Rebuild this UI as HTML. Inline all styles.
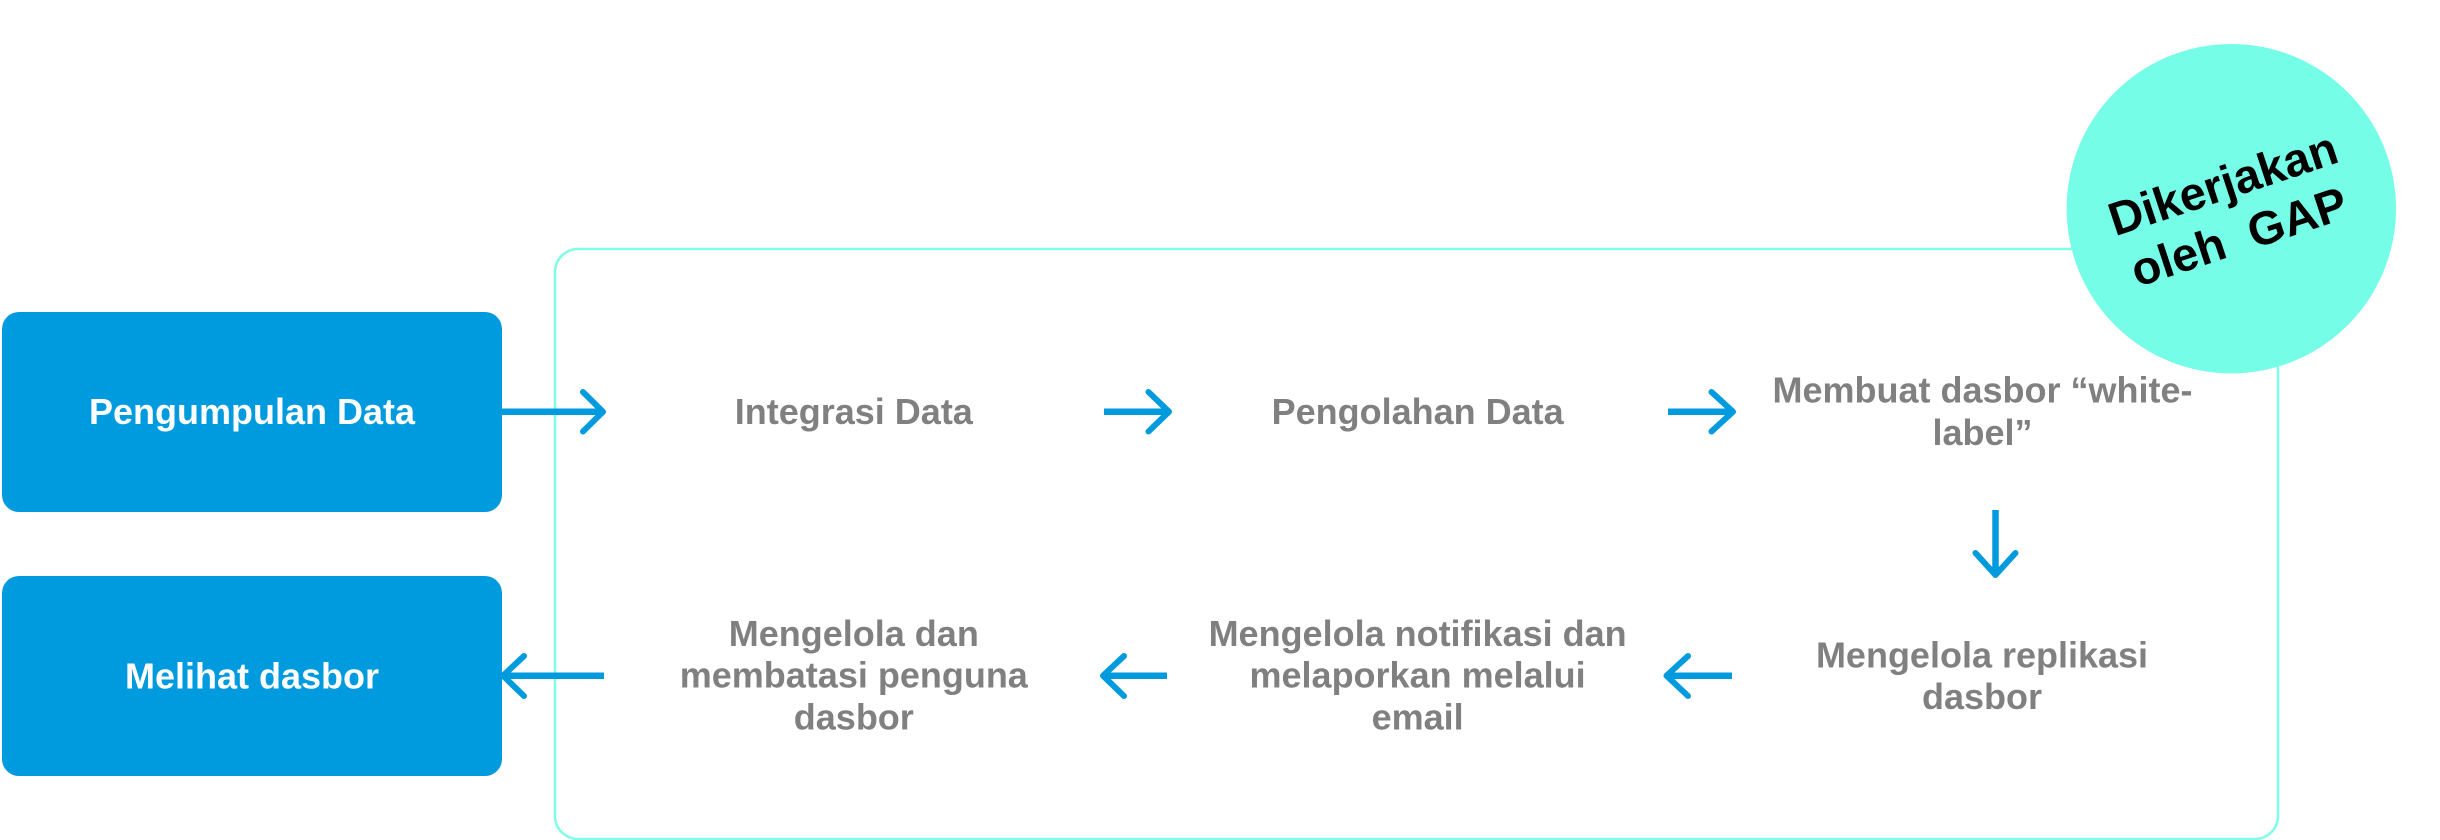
<!DOCTYPE html>
<html><head><meta charset="utf-8"><style>
html,body{margin:0;padding:0;background:#fff;width:2440px;height:840px;overflow:hidden}
svg{display:block}
text{font-family:"Liberation Sans",Arial,sans-serif;font-weight:700;font-size:36px;text-anchor:middle}
.g{fill:#808080}.w{fill:#fff}
.a{fill:none;stroke:#009ade;stroke-width:6;stroke-linecap:round;stroke-linejoin:round}
.l{fill:none;stroke:#009ade;stroke-width:6.5}
</style></head><body>
<svg width="2440" height="840" viewBox="0 0 2440 840" xmlns="http://www.w3.org/2000/svg">
<rect x="555" y="249" width="1723" height="590" rx="23" fill="#fff" stroke="#7ffde9" stroke-width="2.5"/>
<rect x="2" y="312" width="500" height="200" rx="17" fill="#009ade"/>
<rect x="2" y="576" width="500" height="200" rx="17" fill="#009ade"/>
<circle cx="2231.3" cy="208.7" r="164.7" fill="#76fde8"/>

<line class="l" x1="501" y1="411.7" x2="601" y2="411.7"/><polyline class="a" points="583,392 603,411.7 583,431.5"/>
<line class="l" x1="1104" y1="411.7" x2="1167" y2="411.7"/><polyline class="a" points="1148.5,392 1169,411.7 1148.5,431.5"/>
<line class="l" x1="1668" y1="411.7" x2="1731" y2="411.7"/><polyline class="a" points="1711.5,392 1733,411.7 1711.5,431.5"/>
<line class="l" x1="1995.5" y1="510" x2="1995.5" y2="573"/><polyline class="a" points="1975.5,553 1995.5,575 2015.5,553"/>
<line class="l" x1="1732" y1="675.7" x2="1669" y2="675.7"/><polyline class="a" points="1688,656 1666.5,675.7 1688,696"/>
<line class="l" x1="1167" y1="675.7" x2="1105" y2="675.7"/><polyline class="a" points="1124,656 1103,675.7 1124,696"/>
<line class="l" x1="604" y1="675.7" x2="505" y2="675.7"/><polyline class="a" points="524,656 503,675.7 524,696"/>

<text class="w" x="252" y="424">Pengumpulan Data</text>
<text class="w" x="252" y="688.7">Melihat dasbor</text>
<text class="g" x="853.8" y="424">Integrasi Data</text>
<text class="g" x="1417.6" y="424">Pengolahan Data</text>
<text class="g" x="1982.5" y="402.7">Membuat dasbor “white-</text>
<text class="g" x="1982.5" y="445">label”</text>
<text class="g" x="1982" y="667.5">Mengelola replikasi</text>
<text class="g" x="1982" y="709">dasbor</text>
<text class="g" x="1417.6" y="646">Mengelola notifikasi dan</text>
<text class="g" x="1417.6" y="687.7">melaporkan melalui</text>
<text class="g" x="1417.6" y="729.3">email</text>
<text class="g" x="853.8" y="646">Mengelola dan</text>
<text class="g" x="853.8" y="687.7">membatasi penguna</text>
<text class="g" x="853.8" y="729.3">dasbor</text>

<text transform="translate(2228 199) rotate(-18.3)" x="0" y="0" style="font-size:47px" fill="#000">Dikerjakan</text>
<text transform="translate(2244 252) rotate(-18.3)" x="0" y="0" style="font-size:47px;white-space:pre" xml:space="preserve" fill="#000">oleh  GAP</text>
</svg>
</body></html>
